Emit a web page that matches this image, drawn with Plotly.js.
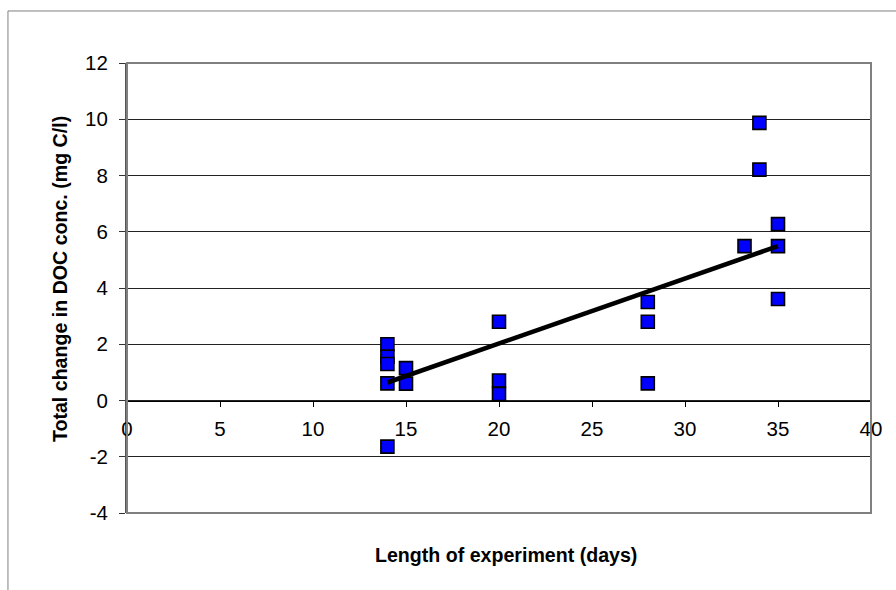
<!DOCTYPE html>
<html>
<head>
<meta charset="utf-8">
<script src="https://cdn.plot.ly/plotly-3.0.1.min.js"></script>
<style>html,body{margin:0;padding:0;background:#fff;}#chart{width:896px;height:590px;}</style>
</head>
<body>
<div id="chart"></div>
<script>
// Data
const days = [14, 14, 14, 14, 14, 15, 15, 20, 20, 20, 28, 28, 28, 33.2, 34, 34, 35, 35, 35];
const docChange = [2.0, 1.56, 1.3, 0.61, -1.64, 1.15, 0.6, 2.8, 0.71, 0.23, 3.5, 2.8, 0.61, 5.49, 9.87, 8.21, 6.27, 5.49, 3.61];
const trendX = [14, 35];
const trendY = [0.64, 5.49];
const xTicks = [0, 5, 10, 15, 20, 25, 30, 35, 40];
const yTicks = [-4, -2, 0, 2, 4, 6, 8, 10, 12];
const xTitle = 'Length of experiment (days)';
const yTitle = 'Total change in DOC conc. (mg C/l)';

const FONT = 'Liberation Sans, Arial, sans-serif';

const traces = [
  {
    x: days, y: docChange, type: 'scatter', mode: 'markers',
    marker: {symbol: 'square', size: 13, color: '#0000ff', line: {color: '#000', width: 1.6}},
    hoverinfo: 'x+y', showlegend: false
  },
  {
    x: trendX, y: trendY, type: 'scatter', mode: 'lines',
    line: {color: '#000', width: 4.6}, showlegend: false
  }
];

const layout = {
  width: 896, height: 590,
  margin: {l: 127, r: 25, t: 63, b: 77},
  paper_bgcolor: '#fff', plot_bgcolor: '#fff',
  font: {family: FONT, size: 20, color: '#000'},
  showlegend: false,
  xaxis: {
    range: [0, 40], tickvals: xTicks, ticktext: xTicks.map(String),
    anchor: 'free', position: 0.25,
    showgrid: false, zeroline: false,
    showline: true, linecolor: '#000', linewidth: 1,
    ticks: 'outside', ticklen: 5, tickcolor: '#000', tickwidth: 1,
    ticklabelstandoff: 5,
    tickfont: {family: FONT, size: 20.5, color: '#000'}
  },
  yaxis: {
    range: [-4, 12], tickvals: yTicks, ticktext: yTicks.map(String),
    domain: [0, 1],
    showgrid: true, gridcolor: '#222', gridwidth: 1, zeroline: false,
    showline: true, linecolor: '#555', linewidth: 2,
    ticks: 'outside', ticklen: 6, tickcolor: '#333', tickwidth: 1,
    ticklabelstandoff: 7,
    tickfont: {family: FONT, size: 20.5, color: '#000'}
  },
  shapes: [
    {type: 'rect', xref: 'paper', yref: 'paper', x0: 0, x1: 1, y0: 0, y1: 1,
     line: {color: '#808080', width: 2}, layer: 'above'},
    {type: 'line', xref: 'paper', yref: 'paper', x0: -0.16, x1: 1.1, y0: 1.1156, y1: 1.1156,
     line: {color: '#808080', width: 1}},
    {type: 'line', xref: 'paper', yref: 'paper', x0: -0.16, x1: -0.16, y0: -0.3, y1: 1.1156,
     line: {color: '#808080', width: 1}}
  ],
  annotations: [
    {text: '<b>' + xTitle + '</b>', xref: 'paper', yref: 'paper', x: 0.51, y: -0.093,
     xanchor: 'center', yanchor: 'middle', showarrow: false,
     font: {family: FONT, size: 19.6, color: '#000'}},
    {text: '<b>' + yTitle + '</b>', xref: 'paper', yref: 'paper', x: -0.09, y: 0.52,
     xanchor: 'center', yanchor: 'middle', textangle: -90, showarrow: false,
     font: {family: FONT, size: 19.6, color: '#000'}}
  ]
};

Plotly.newPlot('chart', traces, layout, {staticPlot: true, displayModeBar: false});
</script>
</body>
</html>
